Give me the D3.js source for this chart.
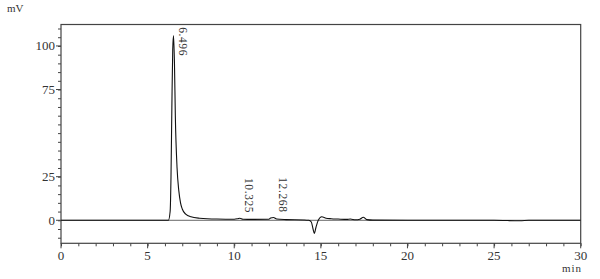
<!DOCTYPE html>
<html><head><meta charset="utf-8">
<script src="https://cdn.jsdelivr.net/npm/d3@7"></script>
<style>body{margin:0;background:#fff}svg{display:block}text{font-family:"Liberation Serif","DejaVu Serif",serif;fill:#333}</style>
</head><body><svg id="c" width="600" height="279"></svg>
<script>
const times = [0, 6.2, 6.3, 6.35, 6.4, 6.45, 6.496, 6.55, 6.6, 6.7, 6.8, 6.9, 7.0, 7.2, 7.5, 8, 9, 10, 10.2, 10.325, 10.5, 11, 12, 12.1, 12.268, 12.45, 13, 14, 14.3, 14.45, 14.55, 14.62, 14.72, 14.85, 15.05, 15.3, 15.6, 16, 16.5, 16.7, 17, 17.25, 17.45, 17.65, 18, 20, 25, 26.5, 27, 30];
const signal = [0, 0, 5, 25, 65, 98, 106, 90, 60, 30, 17, 10, 6.5, 3.5, 2, 1.2, 0.7, 0.6, 0.9, 1.2, 0.6, 0.5, 0.6, 1.3, 1.6, 0.7, 0.4, 0.2, 0, -1, -5, -7.5, -4, 0, 2, 1.2, 0.9, 0.7, 0.5, 0.7, 0.3, 0.6, 1.7, 0.4, 0.1, 0, 0, -0.3, 0, 0];
const peakTimes = [6.496, 10.325, 12.268];
const peakValues = [106, 1.2, 1.6];
const peakLabels = ["6.496", "10.325", "12.268"];
const xMajor = [0, 5, 10, 15, 20, 25, 30];
const yMajor = [0, 25, 75, 100];

const svg = d3.select("#c");
const x = d3.scaleLinear().domain([0, 30]).range([61, 580.7]);
const y = d3.scaleLinear().domain([-13.2, 112.3]).range([243.3, 24.5]);

// frame
svg.append("rect").attr("x", 61).attr("y", 24.5).attr("width", 519.7).attr("height", 218.8)
  .attr("fill", "none").attr("stroke", "#444").attr("stroke-width", 1.2);

// x axis
const xAx = svg.append("g").attr("transform", "translate(0,243.3)");
xAx.call(d3.axisBottom(x).tickValues(d3.range(0, 31, 1)).tickSize(3).tickFormat(""))
  .call(g => g.select(".domain").remove())
  .call(g => g.selectAll("line").attr("stroke", "#444"));
xAx.selectAll(".maj").data(xMajor).enter().append("line").attr("class", "maj")
  .attr("x1", d => x(d)).attr("x2", d => x(d)).attr("y1", 0).attr("y2", 5).attr("stroke", "#444");
xAx.selectAll(".lab").data(xMajor).enter().append("text").attr("class", "lab")
  .attr("x", d => x(d)).attr("y", 17).attr("text-anchor", "middle").attr("font-size", 13).text(d => d);
svg.append("text").attr("x", 572).attr("y", 272).attr("text-anchor", "middle").attr("font-size", 11)
  .attr("letter-spacing", 1).text("min");

// y axis
const yAx = svg.append("g").attr("transform", "translate(61,0)");
yAx.call(d3.axisLeft(y).tickValues(d3.range(-10, 111, 5)).tickSize(3).tickFormat(""))
  .call(g => g.select(".domain").remove())
  .call(g => g.selectAll("line").attr("stroke", "#444"));
yAx.selectAll(".maj").data(yMajor).enter().append("line").attr("class", "maj")
  .attr("x1", -5).attr("x2", 0).attr("y1", d => y(d)).attr("y2", d => y(d)).attr("stroke", "#444");
yAx.selectAll(".lab").data(yMajor).enter().append("text").attr("class", "lab")
  .attr("x", -6).attr("y", d => y(d) + 4.5).attr("text-anchor", "end").attr("font-size", 13).text(d => d);
svg.append("text").attr("x", 7).attr("y", 12).attr("font-size", 11).text("mV");

// baseline
svg.append("line").attr("x1", x(0)).attr("x2", x(30)).attr("y1", y(0)).attr("y2", y(0))
  .attr("stroke", "#666").attr("stroke-width", 1);

// signal
const pts = times.map((t, i) => [t, signal[i]]);
svg.append("path").datum(pts)
  .attr("d", d3.line().x(d => x(d[0])).y(d => y(d[1])).curve(d3.curveMonotoneX))
  .attr("fill", "none").attr("stroke", "#111").attr("stroke-width", 1.1);

// peak labels
peakLabels.forEach((lab, i) => {
  const py = Math.max(y(peakValues[i]) - 5, 56);
  svg.append("text").attr("transform", `translate(${x(peakTimes[i]) + 5},${py}) rotate(90)`)
    .attr("text-anchor", "end").attr("font-size", 11.5).attr("letter-spacing", 0.6).text(lab);
});
</script></body></html>
